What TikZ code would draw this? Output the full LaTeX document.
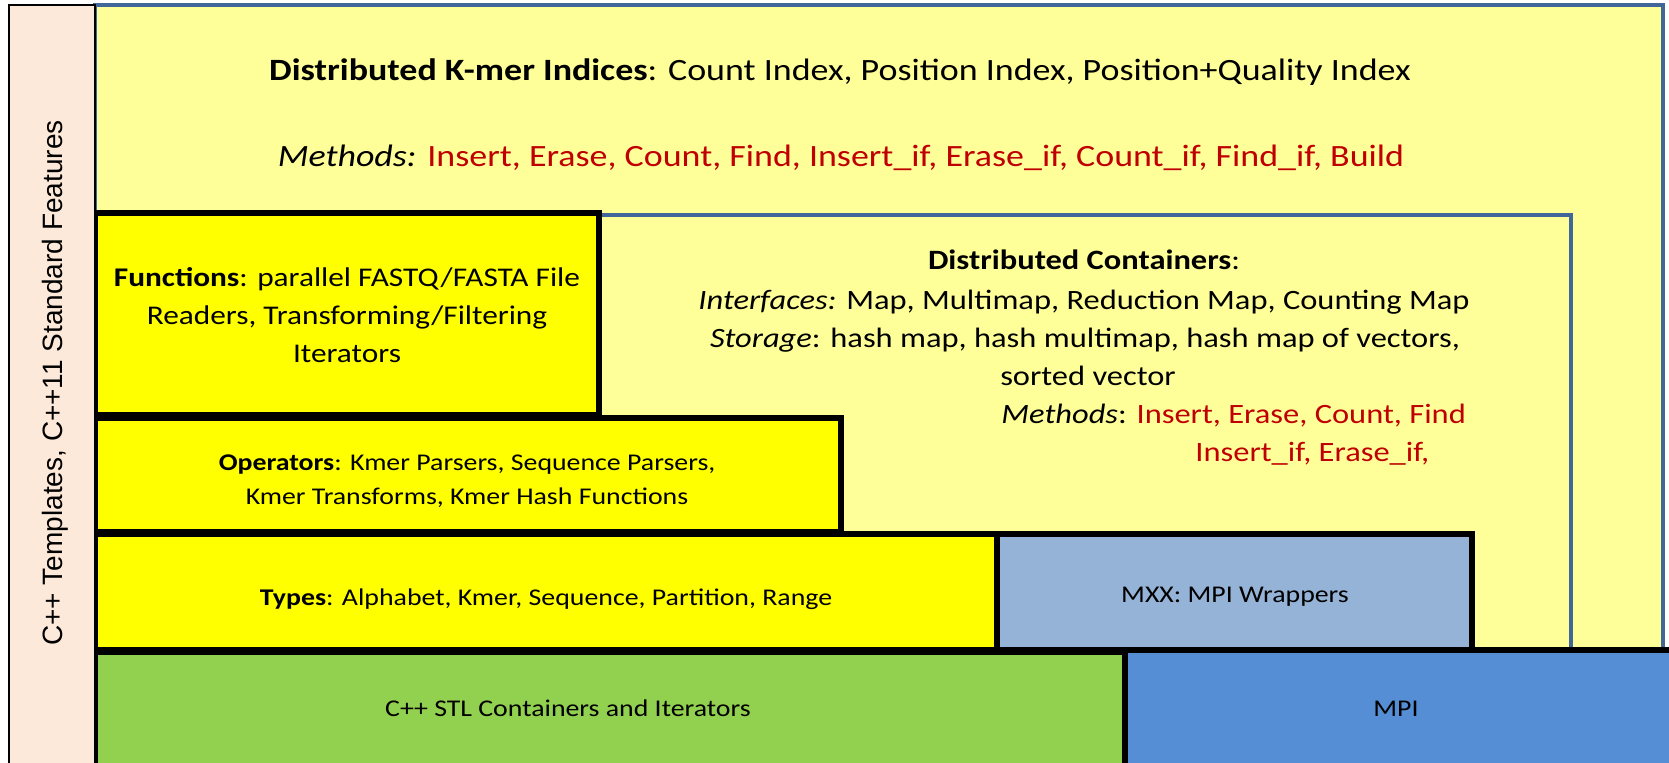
\documentclass[tikz,border=0pt]{standalone}
\usepackage{fontspec}
\setmainfont{Carlito}[FakeStretch=1.16]
\newfontfamily\arialfont{Liberation Sans}
\definecolor{sidebeige}{HTML}{FDE9D9}
\definecolor{paleyellow}{HTML}{FFFF99}
\definecolor{brightyellow}{HTML}{FFFF00}
\definecolor{mxxblue}{HTML}{95B3D7}
\definecolor{mpiblue}{HTML}{558ED5}
\definecolor{stlgreen}{HTML}{92D050}
\definecolor{frameblue}{HTML}{41679A}
\definecolor{methodred}{HTML}{C00000}
\tikzset{
  bluepanel/.style={draw=frameblue, line width=2pt, fill=paleyellow},
  layerbox/.style={draw=black, line width=2.6pt},
  txt/.style={inner sep=0pt, anchor=base},
  bigtxt/.style={txt, font=\fontsize{15.5}{18}\selectfont},
  midtxt/.style={txt, font=\fontsize{14}{17}\selectfont},
  fntxt/.style={txt, font=\fontsize{13.5}{16}\selectfont},
  smalltxt/.style={txt, font=\fontsize{12}{15}\selectfont},
}
\newcommand{\redtxt}[1]{\textcolor{methodred}{#1}}
\begin{document}
\begin{tikzpicture}[x=0.5pt, y=-0.5pt]
\useasboundingbox (0,0) rectangle (1669,763);
\clip (0,0) rectangle (1669,763);

% outer panel: distributed k-mer indices
\path[bluepanel] (95,5) rectangle (1663,800);
% inner panel: distributed containers
\path[bluepanel] (560,215) rectangle (1571,700);

% stacked library layers
\path[layerbox, fill=brightyellow] (95,213) rectangle (599,415);
\path[layerbox, fill=brightyellow] (95,418) rectangle (841,532);
\path[layerbox, fill=brightyellow] (95,534) rectangle (997,650);
\path[layerbox, fill=mxxblue] (997,534) rectangle (1472,650);
\path[layerbox, fill=stlgreen] (95,652) rectangle (1125,800);
\path[layerbox, fill=mpiblue] (1125,650) rectangle (1700,800);

% side bar
\path[draw=black, line width=1.2pt, fill=sidebeige] (9,5) rectangle (95,800);
\node[rotate=90, inner sep=0pt, anchor=base, font=\arialfont\fontsize{14}{16}\selectfont]
  (side) at (62,383) {C++ Templates, C++11 Standard Features};

% k-mer index text
\node[bigtxt] (kmer) at (840,81)
  {\textbf{Distributed K-mer Indices}: Count Index, Position Index, Position+Quality Index};
\node[bigtxt] (kmethods) at (841,167)
  {\textit{Methods:} \redtxt{Insert, Erase, Count, Find, Insert\_if, Erase\_if, Count\_if, Find\_if, Build}};

% container text
\node[midtxt] (dc1) at (1084,270) {\textbf{Distributed Containers}:};
\node[midtxt] (dc2) at (1084,310) {\textit{Interfaces:} Map, Multimap, Reduction Map, Counting Map};
\node[midtxt] (dc3) at (1085,348) {\textit{Storage}: hash map, hash multimap, hash map of vectors,};
\node[midtxt] (dc4) at (1088,386) {sorted vector};
\node[midtxt, anchor=base west] (dc5) at (1001,424) {\textit{Methods}: \redtxt{Insert, Erase, Count, Find}};
\node[midtxt, anchor=base west] (dc6) at (1195,462) {\redtxt{Insert\_if, Erase\_if,}};

% functions
\node[fntxt] (fn1) at (347,287) {\textbf{Functions}: parallel FASTQ/FASTA File};
\node[fntxt] (fn2) at (347,325) {Readers, Transforming/Filtering};
\node[fntxt] (fn3) at (347,363) {Iterators};

% operators
\node[smalltxt] (op1) at (467,471) {\textbf{Operators}: Kmer Parsers, Sequence Parsers,};
\node[smalltxt] (op2) at (467,505) {Kmer Transforms, Kmer Hash Functions};

% types, wrappers, base layers
\node[smalltxt] (types) at (546,606)
  {\textbf{Types}: Alphabet, Kmer, Sequence, Partition, Range};
\node[smalltxt] (mxx) at (1235,603) {MXX: MPI Wrappers};
\node[smalltxt] (stl) at (568,716) {C++ STL Containers and Iterators};
\node[smalltxt] (mpi) at (1396,716) {MPI};
\end{tikzpicture}
\end{document}
